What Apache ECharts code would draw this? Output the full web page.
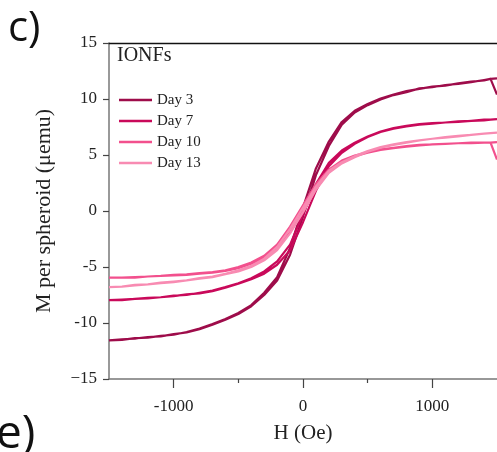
<!DOCTYPE html>
<html>
<head>
<meta charset="utf-8">
<script src="https://cdn.jsdelivr.net/npm/echarts@6/dist/echarts.min.js"></script>
<style>
  html, body { margin: 0; padding: 0; background: #fff; }
  #chart { width: 497px; height: 452px; }
</style>
</head>
<body>
<div id="chart"></div>
<script>
// applied field (Oe)
const H = [-1500, -1400, -1300, -1200, -1100, -1000, -900, -800, -700, -600, -500, -400, -300, -200, -100, 0,
  100, 200, 300, 400, 500, 600, 700, 800, 900, 1000, 1100, 1200, 1300, 1400, 1450, 1500]

// M per spheroid (uemu), ascending branch (field going up)
const day3Up = [-11.6, -11.45, -11.4, -11.25, -11.2, -11.0, -10.85, -10.55, -10.15, -9.7, -9.2, -8.5, -7.5, -6.2, -3.9, -0.5,
  3.2, 5.8, 7.7, 8.8, 9.45, 9.95, 10.35, 10.6, 10.95, 11.05, 11.25, 11.35, 11.5, 11.7, 11.8, 11.85]
const day7Up = [-8.0, -7.95, -7.85, -7.8, -7.7, -7.6, -7.45, -7.35, -7.15, -6.85, -6.5, -6.1, -5.6, -4.8, -3.5, -1.0,
  1.8, 4.0, 5.2, 6.0, 6.6, 7.05, 7.35, 7.55, 7.7, 7.8, 7.9, 7.95, 8.05, 8.1, 8.15, 8.2]
const day10Up = [-6.0, -5.95, -5.95, -5.85, -5.8, -5.75, -5.7, -5.6, -5.5, -5.35, -5.1, -4.7, -4.15, -3.3, -1.9, -0.1,
  2.0, 3.5, 4.4, 4.9, 5.2, 5.45, 5.6, 5.75, 5.85, 5.95, 6.0, 6.05, 6.05, 6.1, 6.1, 6.15]
const day13Up = [-6.85, -6.75, -6.65, -6.55, -6.45, -6.35, -6.2, -6.05, -5.9, -5.65, -5.4, -5.0, -4.4, -3.5, -2.0, -0.1,
  1.9, 3.4, 4.25, 4.8, 5.3, 5.65, 5.9, 6.1, 6.3, 6.45, 6.55, 6.65, 6.8, 6.9, 6.95, 7.0]

// descending branch (field going down), listed in the same H order
const day3Down = [-11.55, -11.5, -11.35, -11.3, -11.15, -11.05, -10.8, -10.5, -10.1, -9.65, -9.1, -8.4, -7.3, -5.9, -3.3, 0.3,
  3.8, 6.2, 7.95, 8.95, 9.55, 10.05, 10.4, 10.7, 10.9, 11.1, 11.2, 11.4, 11.55, 11.65, 11.8, 10.4]
const day7Down = [-7.95, -7.9, -7.85, -7.75, -7.7, -7.55, -7.5, -7.3, -7.1, -6.8, -6.45, -6.0, -5.4, -4.5, -3.0, -0.3,
  2.4, 4.3, 5.4, 6.1, 6.65, 7.1, 7.4, 7.6, 7.75, 7.85, 7.9, 8.0, 8.05, 8.15, 8.15, 8.2]
const day10Down = [-5.95, -5.95, -5.9, -5.85, -5.8, -5.7, -5.65, -5.55, -5.45, -5.3, -5.0, -4.6, -4.0, -3.0, -1.4, 0.5,
  2.4, 3.7, 4.5, 4.95, 5.25, 5.5, 5.65, 5.8, 5.9, 5.95, 6.0, 6.05, 6.1, 6.1, 6.1, 4.6]
const day13Down = [-6.8, -6.75, -6.6, -6.55, -6.4, -6.3, -6.2, -6.0, -5.85, -5.6, -5.3, -4.9, -4.25, -3.2, -1.6, 0.3,
  2.2, 3.6, 4.35, 4.9, 5.35, 5.7, 5.95, 6.15, 6.3, 6.45, 6.6, 6.7, 6.8, 6.9, 6.95, 7.0]

const names = ['Day 3', 'Day 7', 'Day 10', 'Day 13']
const colors = ['#9e0c4a', '#c9095a', '#f2508d', '#f88bb2']
const yTicks = [-15, -10, -5, 0, 5, 10, 15]
const xLabels = [-1000, 0, 1000]
const xMinor = [-500, 500]

const serif = '"Liberation Serif", "Times New Roman", serif'

// loop: come down from +H along the descending branch, then go back up
function loop (down, up) {
  let pts = []
  for (let i = H.length - 1; i >= 0; i--) pts.push([H[i], down[i]])
  for (let i = 0; i < H.length; i++) pts.push([H[i], up[i]])
  return pts
}
const loops = [
  loop(day3Down, day3Up),
  loop(day7Down, day7Up),
  loop(day10Down, day10Up),
  loop(day13Down, day13Up)
]

let chart = echarts.init(document.getElementById('chart'))
let option = {
  animation: false,
  color: colors,
  grid: { left: 109, top: 43, width: 390, height: 336 },
  legend: {
    data: names,
    orient: 'vertical',
    left: 114,
    top: 87,
    icon: 'rect',
    itemWidth: 33,
    itemHeight: 2.5,
    itemGap: 5,
    textStyle: { fontFamily: serif, fontSize: 15, color: '#222', lineHeight: 16 }
  },
  graphic: [
    { type: 'text', left: 117, top: 46, style: { text: 'IONFs', font: '20px ' + serif, fill: '#222' } },
    { type: 'text', left: 8, top: 8, style: { text: 'c)', font: '42px "Open Sans", sans-serif', fill: '#111' } },
    { type: 'text', left: -4, top: 412, style: { text: 'e)', font: '46px "Open Sans", sans-serif', fill: '#111' } }
  ],
  xAxis: [
    {
      type: 'value',
      position: 'bottom',
      min: -1500,
      max: 1500,
      name: 'H (Oe)',
      nameLocation: 'middle',
      nameGap: 44,
      nameTextStyle: { fontFamily: serif, fontSize: 21, color: '#222' },
      axisLine: { onZero: false, lineStyle: { color: '#777', width: 1.5 } },
      axisTick: { customValues: xLabels, length: 9, lineStyle: { color: '#444', width: 1.2 } },
      axisLabel: {
        customValues: xLabels,
        margin: 19,
        fontFamily: serif,
        fontSize: 17,
        color: '#222',
        formatter: function (v) { return String(v) }
      },
      splitLine: { show: false }
    },
    {
      type: 'value',
      position: 'bottom',
      min: -1500,
      max: 1500,
      axisLine: { show: false, onZero: false },
      axisTick: { customValues: xMinor, length: 4, lineStyle: { color: '#444', width: 1.2 } },
      axisLabel: { show: false },
      splitLine: { show: false }
    },
    {
      type: 'value',
      position: 'top',
      min: -1500,
      max: 1500,
      axisLine: { onZero: false, lineStyle: { color: '#111', width: 1.3 } },
      axisTick: { show: false },
      axisLabel: { show: false },
      splitLine: { show: false }
    }
  ],
  yAxis: {
    type: 'value',
    min: -15,
    max: 15,
    interval: 5,
    name: 'M per spheroid (\u03bcemu)',
    nameLocation: 'middle',
    nameGap: 54,
    nameTextStyle: { fontFamily: serif, fontSize: 22, color: '#222' },
    axisLine: { show: true, onZero: false, lineStyle: { color: '#777', width: 1.5 } },
    axisTick: { show: true, length: 6, lineStyle: { color: '#444', width: 1.2 } },
    axisLabel: {
      margin: 12,
      fontFamily: serif,
      fontSize: 17,
      color: '#222',
      customValues: yTicks,
      formatter: function (v) { return v === -15 ? '\u221215' : String(v) }
    },
    splitLine: { show: false }
  },
  series: loops.map(function (d, i) {
    return {
      name: names[i],
      type: 'line',
      xAxisIndex: 0,
      data: d,
      showSymbol: false,
      symbol: 'none',
      lineStyle: { width: 2.2, color: colors[i] }
    }
  })
}
chart.setOption(option)
</script>
</body>
</html>
